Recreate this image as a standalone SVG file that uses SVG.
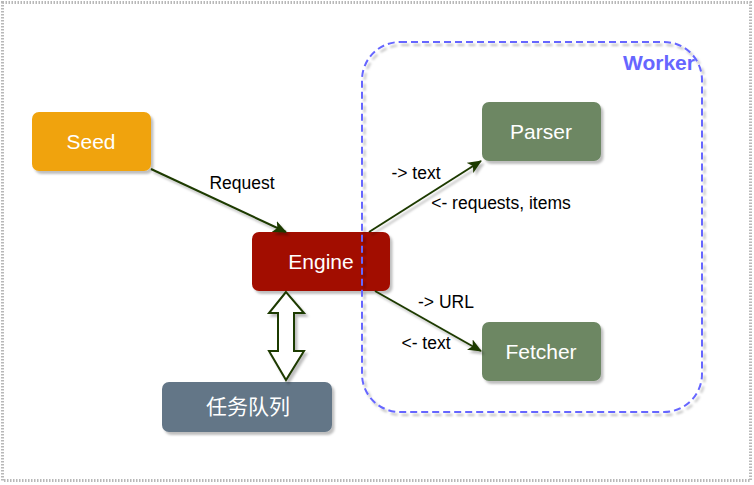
<svg xmlns="http://www.w3.org/2000/svg" width="754" height="485" viewBox="0 0 754 485">
<defs>
<filter id="sh" x="-10%" y="-10%" width="130%" height="140%">
<feDropShadow dx="2.5" dy="3" stdDeviation="0.8" flood-color="#000" flood-opacity="0.25"/>
</filter>
<marker id="arr" markerUnits="userSpaceOnUse" markerWidth="14" markerHeight="12" viewBox="0 0 14 12" refX="13" refY="6" orient="auto">
<path d="M0,0 L14,6 L0,12 L3.5,6 Z" fill="#1f3a00"/>
</marker>
</defs>
<style>
.node{stroke:none;filter:url(#sh)}
.lbl{font-family:"Comic Sans MS","Liberation Sans","Noto Sans CJK SC",sans-serif;font-size:21px;fill:#fff;text-anchor:middle}
.el{font-family:"Comic Sans MS","Liberation Sans",sans-serif;font-size:17.5px;fill:#000;text-anchor:middle}
.edge{stroke:#1f3a00;stroke-width:2;fill:none}
</style>
<rect x="0" y="0" width="754" height="485" fill="#fff"/>
<rect x="2.5" y="2.5" width="748" height="478" fill="none" stroke="#b8b8b8" stroke-width="3" stroke-dasharray="1.5 1.5"/>

<g id="seed">
<rect class="node" x="32" y="112" width="119" height="59" rx="7" fill="#F0A30A"/>
<text class="lbl" x="91" y="149">Seed</text>
</g>
<g id="engine">
<rect class="node" x="252" y="232" width="138" height="59" rx="7" fill="#A20F00"/>
<text class="lbl" x="321" y="269">Engine</text>
</g>
<g id="parser">
<rect class="node" x="482" y="102" width="119" height="59" rx="7" fill="#6D8764"/>
<text class="lbl" x="541" y="139">Parser</text>
</g>
<g id="fetcher">
<rect class="node" x="482" y="322" width="119" height="59" rx="7" fill="#6D8764"/>
<text class="lbl" x="541" y="359">Fetcher</text>
</g>
<g id="queue">
<rect class="node" x="162" y="382" width="170" height="50" rx="7" fill="#647687"/>
<text class="lbl" x="248" y="414">任务队列</text>
</g>

<g id="worker">
<rect x="362" y="42" width="340" height="370" rx="38" fill="none" stroke="#6666FF" stroke-width="2" stroke-dasharray="7 4" filter="url(#sh)"/>
<text x="659" y="70" font-family="'Comic Sans MS','Liberation Sans',sans-serif" font-size="21" font-weight="bold" fill="#6666FF" text-anchor="middle">Worker</text>
</g>

<g id="connectors" filter="url(#sh)">
<line class="edge" x1="151" y1="169" x2="286" y2="232" marker-end="url(#arr)"/>
<line class="edge" x1="369" y1="232" x2="481" y2="161" marker-end="url(#arr)"/>
<line class="edge" x1="375" y1="291" x2="481" y2="351" marker-end="url(#arr)"/>
<polygon points="286,292 269,313 278,313 278,351 269,351 286,380 304,351 294,351 294,313 304,313" fill="#fff" stroke="#1f3a00" stroke-width="2" stroke-linejoin="miter"/>
</g>

<g id="edge-labels">
<text class="el" x="242" y="189">Request</text>
<text class="el" x="416" y="179">-&gt; text</text>
<text class="el" x="501" y="209">&lt;- requests, items</text>
<text class="el" x="446" y="308">-&gt; URL</text>
<text class="el" x="426" y="349">&lt;- text</text>
</g>
</svg>
